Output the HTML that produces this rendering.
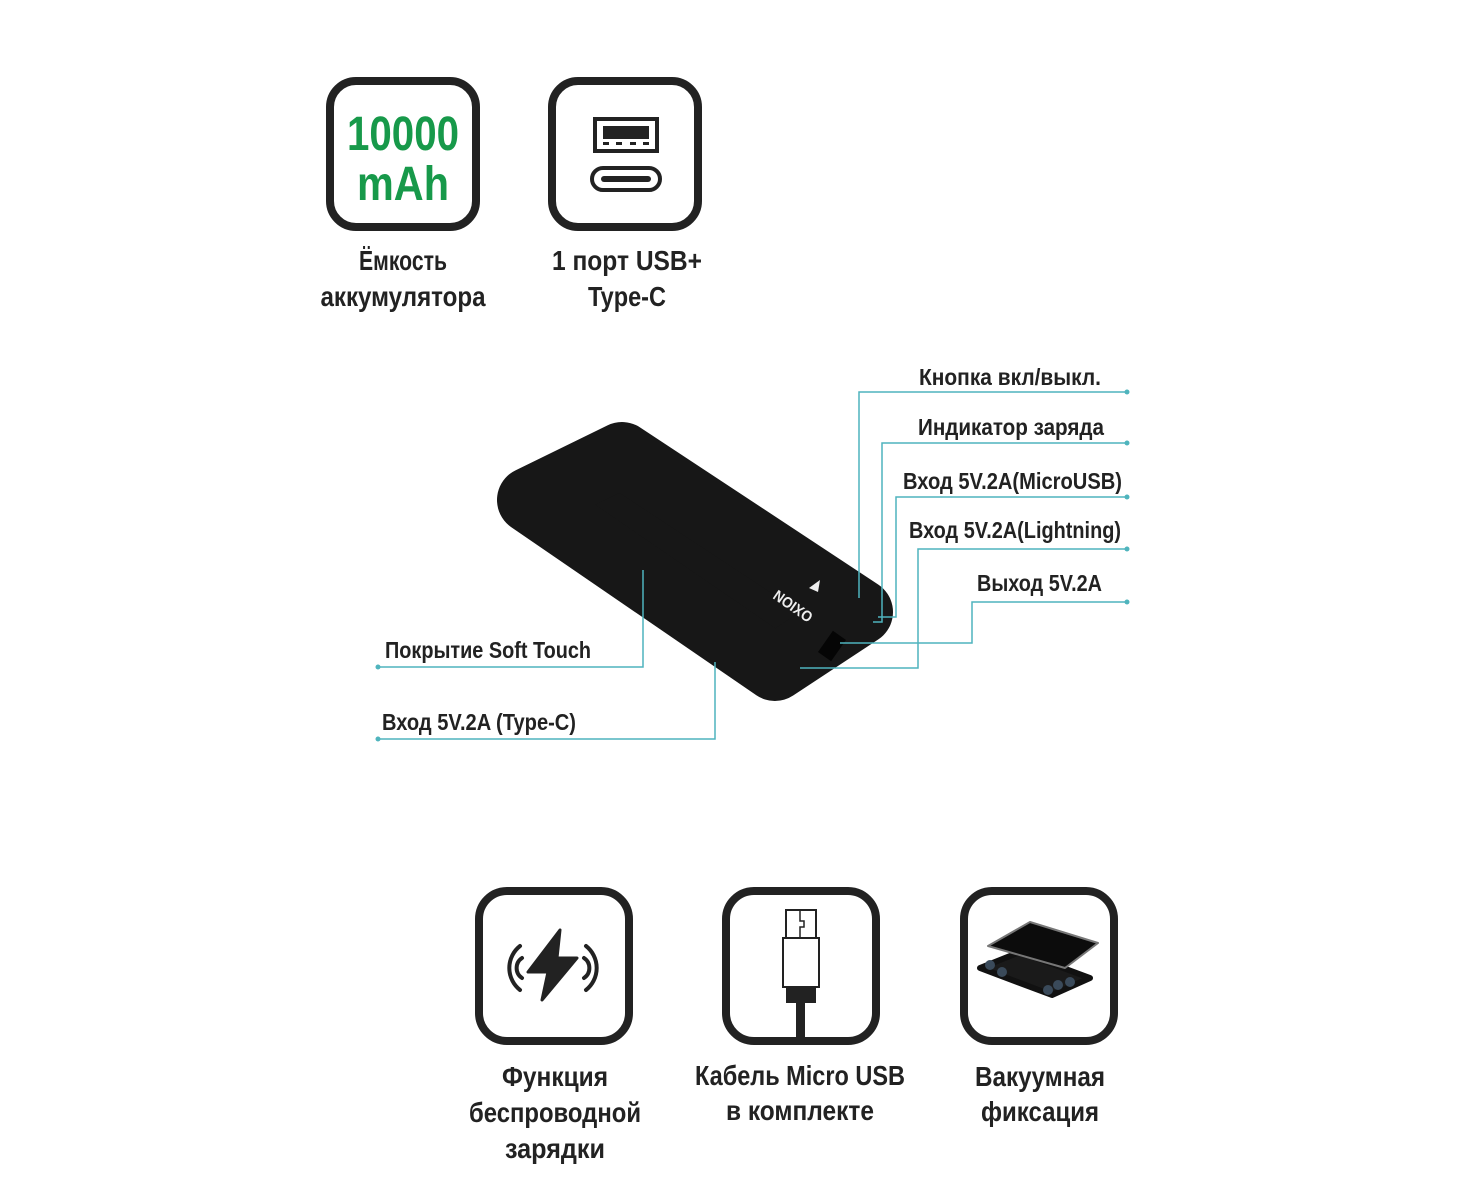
<!DOCTYPE html>
<html><head><meta charset="utf-8"><style>
html,body{margin:0;padding:0;background:#fff;}
svg{display:block}
text{font-family:"Liberation Sans Narrow","Liberation Sans",sans-serif;font-weight:bold;fill:#222}
</style></head><body>
<svg width="1467" height="1200" viewBox="0 0 1467 1200" xmlns="http://www.w3.org/2000/svg">
<rect x="330" y="81" width="146" height="146" rx="26" fill="none" stroke="#222" stroke-width="8"/>
<rect x="552" y="81" width="146" height="146" rx="26" fill="none" stroke="#222" stroke-width="8"/>
<text x="403" y="150" font-size="48" text-anchor="middle" style="fill:#17994a" textLength="112" lengthAdjust="spacingAndGlyphs">10000</text>
<text x="403" y="200" font-size="48" text-anchor="middle" style="fill:#17994a" textLength="92" lengthAdjust="spacingAndGlyphs">mAh</text>
<rect x="595" y="119" width="62" height="32" fill="none" stroke="#222" stroke-width="4"/>
<rect x="603" y="126" width="46" height="13" fill="#222"/>
<g fill="#222"><rect x="603" y="142" width="6" height="3"/><rect x="616" y="142" width="6" height="3"/><rect x="630" y="142" width="6" height="3"/><rect x="643" y="142" width="6" height="3"/></g>
<rect x="592" y="168" width="68" height="22" rx="11" fill="none" stroke="#222" stroke-width="4"/>
<rect x="601" y="176" width="50" height="6" rx="3" fill="#222"/>
<text x="403" y="270" font-size="28" text-anchor="middle" textLength="88" lengthAdjust="spacingAndGlyphs">Ёмкость</text>
<text x="403" y="306" font-size="28" text-anchor="middle" textLength="165" lengthAdjust="spacingAndGlyphs">аккумулятора</text>
<text x="627" y="270" font-size="28" text-anchor="middle" textLength="150" lengthAdjust="spacingAndGlyphs">1 порт USB+</text>
<text x="627" y="306" font-size="28" text-anchor="middle" textLength="78" lengthAdjust="spacingAndGlyphs">Type-C</text>

<polygon points="622,455 530,500 775,668 860,612" fill="#171717" stroke="#171717" stroke-width="66" stroke-linejoin="round"/>
<text x="0" y="0" font-size="15" style="fill:#eee" text-anchor="middle" transform="translate(796,602) rotate(-145)" textLength="44" lengthAdjust="spacingAndGlyphs">OXION</text>
<path d="M820,580 l-2,12 l-9,-4 z" fill="#eee"/>
<rect x="824" y="633" width="16" height="26" fill="#050505" transform="rotate(35 832 646)"/>

<g fill="none" stroke="#4fb4bd" stroke-width="1.5">
<polyline points="1127,392 859,392 859,598"/>
<polyline points="1127,443 882,443 882,622 873,622"/>
<polyline points="1127,497 896,497 896,617 878,617"/>
<polyline points="1127,549 918,549 918,668 800,668"/>
<polyline points="1127,602 972,602 972,643 840,643"/>
<polyline points="378,667 643,667 643,570"/>
<polyline points="378,739 715,739 715,662"/>
</g>
<g fill="#4fb4bd">
<circle cx="1127" cy="392" r="2.5"/><circle cx="1127" cy="443" r="2.5"/><circle cx="1127" cy="497" r="2.5"/><circle cx="1127" cy="549" r="2.5"/><circle cx="1127" cy="602" r="2.5"/><circle cx="378" cy="667" r="2.5"/><circle cx="378" cy="739" r="2.5"/>
</g>
<g font-size="23">
<text x="1101" y="385" text-anchor="end" textLength="182" lengthAdjust="spacingAndGlyphs">Кнопка вкл/выкл.</text>
<text x="1104" y="435" text-anchor="end" textLength="186" lengthAdjust="spacingAndGlyphs">Индикатор заряда</text>
<text x="1122" y="489" text-anchor="end" textLength="219" lengthAdjust="spacingAndGlyphs">Вход 5V.2A(MicroUSB)</text>
<text x="1121" y="538" text-anchor="end" textLength="212" lengthAdjust="spacingAndGlyphs">Вход 5V.2A(Lightning)</text>
<text x="1102" y="591" text-anchor="end" textLength="125" lengthAdjust="spacingAndGlyphs">Выход 5V.2A</text>
<text x="385" y="658" textLength="206" lengthAdjust="spacingAndGlyphs">Покрытие Soft Touch</text>
<text x="382" y="730" textLength="194" lengthAdjust="spacingAndGlyphs">Вход 5V.2A (Type-C)</text>
</g>

<rect x="479" y="891" width="150" height="150" rx="28" fill="none" stroke="#222" stroke-width="8"/>
<rect x="726" y="891" width="150" height="150" rx="28" fill="none" stroke="#222" stroke-width="8"/>
<rect x="964" y="891" width="150" height="150" rx="28" fill="none" stroke="#222" stroke-width="8"/>
<path d="M560,930 L528,972 L548,972 L542,1000 L577,958 L557,958 Z" fill="#222" stroke="#222" stroke-width="3" stroke-linejoin="round"/>
<g fill="none" stroke="#222" stroke-width="4" stroke-linecap="round">
<path d="M520,946 A28,28 0 0 0 520,990"/><path d="M522,958 A12,12 0 0 0 522,978"/>
<path d="M586,946 A28,28 0 0 1 586,990"/><path d="M584,958 A12,12 0 0 1 584,978"/>
</g>
<rect x="786" y="910" width="30" height="28" fill="none" stroke="#222" stroke-width="2"/>
<path d="M800,911 v10 h4 v6 h-4 v10" fill="none" stroke="#222" stroke-width="1.5"/>
<rect x="783" y="938" width="36" height="49" fill="#fff" stroke="#222" stroke-width="2"/>
<rect x="786" y="987" width="30" height="16" fill="#222"/>
<rect x="796" y="1000" width="9" height="42" fill="#222"/>
<polygon points="980,968 1052,995 1090,978 1020,952" fill="#1a1a1a" stroke="#111" stroke-width="6" stroke-linejoin="round"/>
<g fill="#3a4a5a"><circle cx="990" cy="965" r="5"/><circle cx="1002" cy="972" r="5"/><circle cx="1058" cy="985" r="5"/><circle cx="1070" cy="982" r="5"/><circle cx="1048" cy="990" r="5"/></g>
<polygon points="988,946 1065,968 1098,943 1030,922" fill="#0c0c0c" stroke="#777" stroke-width="2" stroke-linejoin="round"/>

<g font-size="28" text-anchor="middle">
<text x="555" y="1086" textLength="106" lengthAdjust="spacingAndGlyphs">Функция</text>
<text x="555" y="1122" textLength="172" lengthAdjust="spacingAndGlyphs">беспроводной</text>
<text x="555" y="1158" textLength="100" lengthAdjust="spacingAndGlyphs">зарядки</text>
<text x="800" y="1085" textLength="210" lengthAdjust="spacingAndGlyphs">Кабель Micro USB</text>
<text x="800" y="1120" textLength="148" lengthAdjust="spacingAndGlyphs">в комплекте</text>
<text x="1040" y="1086" textLength="130" lengthAdjust="spacingAndGlyphs">Вакуумная</text>
<text x="1040" y="1121" textLength="118" lengthAdjust="spacingAndGlyphs">фиксация</text>
</g>
</svg>
</body></html>
